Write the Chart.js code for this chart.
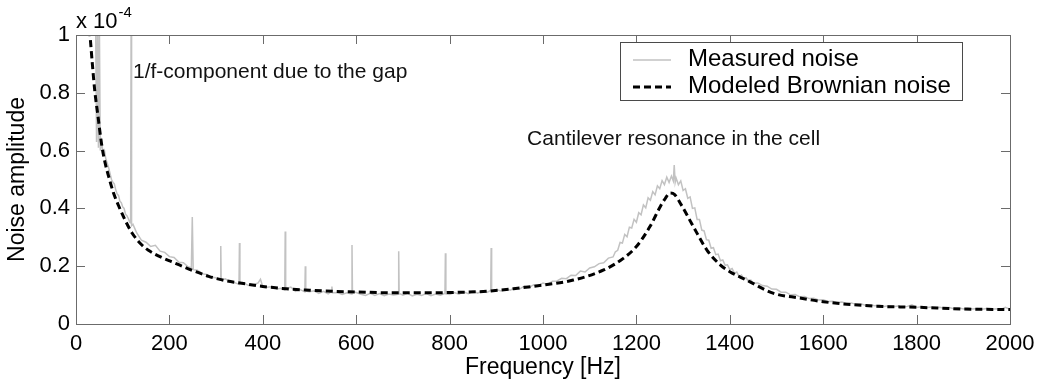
<!DOCTYPE html>
<html>
<head>
<meta charset="utf-8">
<script src="https://cdn.jsdelivr.net/npm/chart.js@4.4.0/dist/chart.umd.min.js"></script>
<style>
  body { margin: 0; background: #fff; }
  #noise-chart { display: block; }
</style>
</head>
<body>
<canvas id="noise-chart" width="1048" height="383"></canvas>
<script>
// amplitudes are in units of 1e-4 (see the "x 10^-4" label)
let modelHz = [29, 35, 40, 47, 55, 62, 70, 80, 91, 105,
    120, 140, 155, 180, 213, 250, 284, 320, 355, 400,
    450, 500, 550, 600, 673, 750, 800, 865, 937, 1000,
    1065, 1130, 1172, 1200, 1229, 1251, 1262, 1272, 1282, 1294,
    1322, 1351, 1380, 1400, 1436, 1494, 1550, 1600, 1707, 1800,
    1900, 2000];
let modelAmp = [1.02, 0.9, 0.81, 0.72, 0.62, 0.56, 0.51, 0.455, 0.41, 0.36,
    0.315, 0.275, 0.255, 0.233, 0.21, 0.185, 0.165, 0.15, 0.141, 0.13,
    0.122, 0.117, 0.113, 0.111, 0.108, 0.108, 0.109, 0.112, 0.122, 0.135,
    0.152, 0.187, 0.227, 0.268, 0.337, 0.406, 0.435, 0.453, 0.448, 0.418,
    0.337, 0.256, 0.204, 0.181, 0.152, 0.106, 0.09, 0.077, 0.062, 0.058,
    0.052, 0.05];

let measuredHz = [42, 44, 46, 48, 50, 52, 55, 58, 61, 64,
    67, 70, 73, 76, 79, 82, 85, 88, 91, 94,
    97, 100, 103, 106, 109, 112, 115, 117, 118, 119,
    122, 126, 130, 140, 150, 160, 170, 180, 190, 200,
    210, 220, 230, 240, 247, 249, 251, 260, 270, 280,
    290, 300, 309, 310, 311, 320, 330, 340, 349, 350,
    351, 360, 370, 380, 390, 395, 400, 410, 420, 430,
    440, 447, 448, 449, 460, 470, 480, 490, 491, 492,
    500, 510, 520, 530, 540, 547, 548, 549, 560, 570,
    580, 590, 591, 592, 600, 610, 620, 630, 640, 650,
    660, 670, 680, 690, 691, 692, 700, 710, 720, 730,
    740, 750, 760, 770, 780, 790, 791, 792, 800, 810,
    820, 830, 840, 850, 860, 870, 880, 888, 889, 890,
    900, 910, 920, 930, 940, 950, 960, 970, 980, 990,
    1000, 1010, 1020, 1030, 1040, 1050, 1060, 1070, 1080, 1090,
    1100, 1110, 1120, 1130, 1140, 1150, 1155, 1160, 1165, 1170,
    1175, 1180, 1185, 1190, 1195, 1200, 1205, 1210, 1215, 1220,
    1225, 1230, 1235, 1240, 1245, 1250, 1255, 1260, 1265, 1270,
    1275, 1279, 1281, 1283, 1285, 1290, 1295, 1300, 1305, 1310,
    1315, 1320, 1325, 1330, 1335, 1340, 1345, 1350, 1355, 1360,
    1365, 1370, 1375, 1380, 1385, 1390, 1395, 1400, 1405, 1410,
    1415, 1420, 1425, 1430, 1435, 1440, 1445, 1450, 1460, 1470,
    1480, 1490, 1500, 1510, 1520, 1530, 1540, 1550, 1560, 1570,
    1580, 1590, 1600, 1610, 1620, 1630, 1640, 1650, 1660, 1670,
    1680, 1690, 1700, 1710, 1720, 1730, 1740, 1750, 1760, 1770,
    1780, 1790, 1800, 1810, 1820, 1830, 1840, 1850, 1860, 1870,
    1880, 1890, 1900, 1910, 1920, 1930, 1940, 1950, 1960, 1970,
    1980, 1990, 2000];
let measuredAmp = [1.05, 0.63, 1.05, 0.61, 1.05, 0.60, 0.63, 0.59, 0.60, 0.57,
    0.555, 0.54, 0.52, 0.50, 0.49, 0.485, 0.465, 0.45, 0.445, 0.425,
    0.42, 0.405, 0.40, 0.38, 0.375, 0.365, 0.352, 0.35, 1.05, 0.34,
    0.345, 0.33, 0.315, 0.29, 0.283, 0.268, 0.272, 0.252, 0.248, 0.233,
    0.23, 0.214, 0.212, 0.198, 0.195, 0.37, 0.188, 0.186, 0.174, 0.171,
    0.162, 0.16, 0.151, 0.27, 0.153, 0.156, 0.145, 0.143, 0.137, 0.28,
    0.14, 0.141, 0.133, 0.136, 0.142, 0.155, 0.129, 0.127, 0.13, 0.121,
    0.124, 0.118, 0.32, 0.121, 0.128, 0.113, 0.119, 0.111, 0.2, 0.114,
    0.112, 0.115, 0.106, 0.113, 0.104, 0.112, 0.13, 0.108, 0.109, 0.102,
    0.108, 0.104, 0.273, 0.113, 0.109, 0.103, 0.099, 0.106, 0.099, 0.105,
    0.098, 0.104, 0.1, 0.103, 0.252, 0.106, 0.1, 0.106, 0.097, 0.103,
    0.099, 0.105, 0.098, 0.104, 0.1, 0.106, 0.245, 0.104, 0.102, 0.109,
    0.103, 0.111, 0.105, 0.113, 0.107, 0.115, 0.109, 0.116, 0.263, 0.113,
    0.119, 0.114, 0.122, 0.117, 0.126, 0.121, 0.131, 0.126, 0.136, 0.132,
    0.142, 0.137, 0.148, 0.149, 0.158, 0.157, 0.169, 0.168, 0.183, 0.18,
    0.194, 0.198, 0.209, 0.212, 0.228, 0.232, 0.25, 0.255, 0.282, 0.28,
    0.31, 0.302, 0.335, 0.332, 0.362, 0.352, 0.385, 0.378, 0.412, 0.402,
    0.437, 0.428, 0.458, 0.447, 0.478, 0.468, 0.496, 0.482, 0.508, 0.49,
    0.512, 0.495, 0.55, 0.49, 0.505, 0.482, 0.495, 0.462, 0.468, 0.435,
    0.44, 0.4, 0.402, 0.362, 0.362, 0.325, 0.322, 0.292, 0.29, 0.262,
    0.264, 0.24, 0.242, 0.219, 0.222, 0.203, 0.205, 0.188, 0.192, 0.175,
    0.18, 0.164, 0.169, 0.155, 0.16, 0.147, 0.152, 0.141, 0.142, 0.133,
    0.131, 0.121, 0.12, 0.11, 0.11, 0.101, 0.102, 0.094, 0.095, 0.088,
    0.089, 0.083, 0.084, 0.078, 0.079, 0.074, 0.076, 0.071, 0.073, 0.068,
    0.07, 0.065, 0.067, 0.063, 0.065, 0.061, 0.063, 0.06, 0.062, 0.058,
    0.061, 0.066, 0.057, 0.06, 0.056, 0.059, 0.055, 0.058, 0.054, 0.057,
    0.053, 0.056, 0.052, 0.055, 0.052, 0.054, 0.051, 0.054, 0.05, 0.053,
    0.05, 0.058, 0.051];

let xRange = [0, 2000];
let yRange = [0, 1];
let xTickStep = 200;
let yTickStep = 0.2;
let notes = [
    { text: '1/f-component due to the gap', hz: 122, amp: 0.872 },
    { text: 'Cantilever resonance in the cell', hz: 966, amp: 0.64 }
];

let fontName = '"Liberation Sans", Arial, sans-serif';
let axisColor = '#6b6b6b';

function toPoints(xs, ys) {
    return xs.map((x, i) => ({ x: x, y: ys[i] }));
}

// MATLAB-like box: inward ticks on all sides, legend, notes, exponent
let matlabDecor = {
    id: 'matlabDecor',
    afterDraw(chart) {
        let ctx = chart.ctx;
        let area = chart.chartArea;
        let xs = chart.scales.x;
        let ys = chart.scales.y;
        let tick = 9;

        ctx.save();
        ctx.strokeStyle = axisColor;
        ctx.lineWidth = 1;
        ctx.strokeRect(area.left + 0.5, area.top + 0.5, area.right - area.left, area.bottom - area.top);

        ctx.beginPath();
        xs.ticks.forEach(t => {
            let px = Math.round(xs.getPixelForValue(t.value)) + 0.5;
            ctx.moveTo(px, area.bottom);
            ctx.lineTo(px, area.bottom - tick);
            ctx.moveTo(px, area.top);
            ctx.lineTo(px, area.top + tick);
        });
        ys.ticks.forEach(t => {
            let py = Math.round(ys.getPixelForValue(t.value)) + 0.5;
            ctx.moveTo(area.left, py);
            ctx.lineTo(area.left + tick, py);
            ctx.moveTo(area.right, py);
            ctx.lineTo(area.right - tick, py);
        });
        ctx.stroke();

        // exponent label
        ctx.fillStyle = '#000';
        ctx.textAlign = 'left';
        ctx.textBaseline = 'middle';
        ctx.font = '22px ' + fontName;
        let base = 'x 10';
        ctx.fillText(base, area.left, area.top - 13);
        let bw = ctx.measureText(base).width;
        ctx.font = '15px ' + fontName;
        ctx.fillText('-4', area.left + bw + 1, area.top - 22);

        // notes
        ctx.font = '21px ' + fontName;
        ctx.fillStyle = '#111';
        notes.forEach(n => {
            ctx.fillText(n.text, xs.getPixelForValue(n.hz), ys.getPixelForValue(n.amp));
        });

        // legend
        let lx = area.right - 390;
        let ly = area.top + 7;
        let lw = 342;
        let lh = 58;
        ctx.fillStyle = '#fff';
        ctx.fillRect(lx, ly, lw, lh);
        ctx.strokeStyle = '#4a4a4a';
        ctx.strokeRect(lx + 0.5, ly + 0.5, lw, lh);
        ctx.font = '24px ' + fontName;
        let rows = [chart.data.datasets[1], chart.data.datasets[0]];
        rows.forEach((ds, i) => {
            let cy = ly + 17 + i * 27;
            ctx.save();
            ctx.strokeStyle = ds.borderColor;
            ctx.lineWidth = ds.borderWidth;
            ctx.setLineDash(ds.borderDash || []);
            ctx.beginPath();
            ctx.moveTo(lx + 13, cy + 1);
            ctx.lineTo(lx + 51, cy + 1);
            ctx.stroke();
            ctx.restore();
            ctx.fillStyle = '#000';
            ctx.fillText(ds.label, lx + 68, cy);
        });
        ctx.restore();
    }
};

let ctx = document.getElementById('noise-chart').getContext('2d');

new Chart(ctx, {
    type: 'line',
    data: {
        datasets: [{
            label: 'Modeled Brownian noise',
            data: toPoints(modelHz, modelAmp),
            borderColor: '#000',
            borderWidth: 3,
            borderDash: [7, 4],
            cubicInterpolationMode: 'monotone',
            pointRadius: 0,
            fill: false,
            order: 1
        }, {
            label: 'Measured noise',
            data: toPoints(measuredHz, measuredAmp),
            borderColor: '#c2c2c2',
            borderWidth: 1.5,
            tension: 0,
            pointRadius: 0,
            fill: false,
            order: 2
        }]
    },
    options: {
        responsive: false,
        animation: false,
        events: [],
        layout: { padding: { left: 0, right: 38, top: 35, bottom: 0 } },
        plugins: {
            legend: { display: false },
            tooltip: { enabled: false }
        },
        scales: {
            x: {
                type: 'linear',
                min: xRange[0],
                max: xRange[1],
                grid: { display: false, drawTicks: false },
                border: { display: false },
                ticks: {
                    stepSize: xTickStep,
                    padding: 7,
                    color: '#000',
                    font: { family: fontName, size: 22 },
                    callback: v => String(v)
                },
                title: {
                    display: true,
                    text: 'Frequency [Hz]',
                    color: '#000',
                    font: { family: fontName, size: 23 },
                    padding: { top: 0, bottom: 2 }
                },
                afterFit: scale => { scale.height = 59; }
            },
            y: {
                min: yRange[0],
                max: yRange[1],
                grid: { display: false, drawTicks: false },
                border: { display: false },
                ticks: {
                    stepSize: yTickStep,
                    padding: 6,
                    color: '#000',
                    font: { family: fontName, size: 22 },
                    callback: v => String(+v.toFixed(1))
                },
                title: {
                    display: true,
                    text: 'Noise amplitude',
                    color: '#000',
                    font: { family: fontName, size: 23 },
                    padding: { top: 4, bottom: 0 }
                },
                afterFit: scale => { scale.width = 76; }
            }
        }
    },
    plugins: [matlabDecor]
});
</script>
</body>
</html>
